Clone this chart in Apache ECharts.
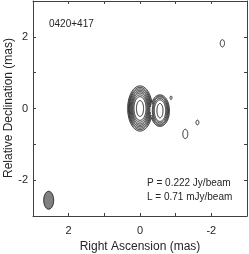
<!DOCTYPE html>
<html><head><meta charset="utf-8">
<script src="https://cdn.jsdelivr.net/npm/echarts@6/dist/echarts.min.js"></script>
<style>html,body{margin:0;padding:0;background:#fff}#c{width:249px;height:254px}</style>
</head><body><div id="c"></div>
<script>
// ---- data (mas) ----
const xTicks = [-3, 3, 1];      // min, max, step (RA reversed)
const yTicks = [-3, 3, 1];
const labelledTicks = [-2, 0, 2];
const mainCenter = [0.0, 0.0];
const mainA = [0.10, 0.17, 0.20, 0.225, 0.25, 0.275, 0.30, 0.32, 0.345];
const mainB = [0.22, 0.33, 0.38, 0.43, 0.47, 0.51, 0.55, 0.59, 0.63];
const jetCenter = [-0.56, -0.06];
const jetA = [0.085, 0.16, 0.19, 0.215, 0.24, 0.265];
const jetB = [0.20, 0.30, 0.34, 0.38, 0.41, 0.44];
const blobX = [-0.87, -1.61, -1.27, -2.31];
const blobY = [0.30, -0.39, -0.71, 1.82];
const blobA = [0.025, 0.04, 0.07, 0.06];
const blobB = [0.05, 0.065, 0.13, 0.10];
const beam = [2.56, -2.56, 0.14, 0.25];
const sourceName = '0420+417';
const peakText = 'P = 0.222 Jy/beam';
const lowText = 'L = 0.71 mJy/beam';
const yName = 'Relative Declination (mas)';
const xName = 'Right Ascension (mas)';

const rows = [];
mainA.forEach((a, i) => rows.push([mainCenter[0], mainCenter[1], a, mainB[i], 0]));
jetA.forEach((a, i) => rows.push([jetCenter[0], jetCenter[1], a, jetB[i], 1]));
blobX.forEach((x, i) => rows.push([x, blobY[i], blobA[i], blobB[i], 2]));

function inside(x, y, c, a, b) {
  const dx = (x - c[0]) / a, dy = (y - c[1]) / b;
  return dx * dx + dy * dy < 1;
}
const mainOuter = [mainA[mainA.length - 1], mainB[mainB.length - 1]];
const jetOuter = [jetA[jetA.length - 1], jetB[jetB.length - 1]];

function renderContour(params, api) {
  const cx = api.value(0), cy = api.value(1), a = api.value(2), b = api.value(3), kind = api.value(4);
  const N = 160;
  const pts = [];
  for (let k = 0; k < N; k++) {
    const t = 2 * Math.PI * k / N;
    const x = cx + a * Math.cos(t), y = cy + b * Math.sin(t);
    let vis = true;
    if (kind === 0 && inside(x, y, jetCenter, jetOuter[0], jetOuter[1])) vis = false;
    if (kind === 1 && inside(x, y, mainCenter, mainOuter[0], mainOuter[1])) vis = false;
    pts.push({p: api.coord([x, y]), vis});
  }
  const style = {stroke: '#000', fill: null, lineWidth: 0.9};
  const firstHidden = pts.findIndex(q => !q.vis);
  if (firstHidden < 0) {
    return {type: 'polygon', shape: {points: pts.map(q => q.p)}, style};
  }
  const children = [];
  let seg = [];
  for (let k = 0; k <= N; k++) {
    const q = pts[(firstHidden + k) % N];
    if (q.vis) seg.push(q.p);
    else { if (seg.length > 1) children.push({type: 'polyline', shape: {points: seg}, style}); seg = []; }
  }
  if (seg.length > 1) children.push({type: 'polyline', shape: {points: seg}, style});
  return {type: 'group', children};
}
function renderBeam(params, api) {
  const cx = api.value(0), cy = api.value(1), a = api.value(2), b = api.value(3);
  const pts = [];
  for (let k = 0; k < 80; k++) {
    const t = 2 * Math.PI * k / 80;
    pts.push(api.coord([cx + a * Math.cos(t), cy + b * Math.sin(t)]));
  }
  return {type: 'polygon', shape: {points: pts}, style: {fill: '#808080', stroke: '#000', lineWidth: 0.8}};
}

const axisCol = '#404040', textCol = '#262626', font = 'Liberation Sans, Arial, sans-serif';
function lab(v) { return labelledTicks.indexOf(v) >= 0 ? String(v) : ''; }
const chart = echarts.init(document.getElementById('c'));
chart.setOption({
  animation: false,
  grid: {left: 33, right: 2, top: 1, bottom: 38, containLabel: false, outerBoundsMode: 'none'},
  xAxis: [
    {type: 'value', min: xTicks[0], max: xTicks[1], interval: xTicks[2], inverse: true,
     name: xName, nameLocation: 'middle', nameGap: 24,
     nameTextStyle: {color: textCol, fontSize: 12, fontFamily: font},
     axisLine: {show: true, onZero: false, lineStyle: {color: axisCol, width: 1}},
     axisTick: {show: true, inside: true, length: 3, lineStyle: {color: axisCol}},
     axisLabel: {formatter: lab, color: textCol, fontSize: 11, fontFamily: font, margin: 9},
     splitLine: {show: false}},
    {type: 'value', position: 'top', min: xTicks[0], max: xTicks[1], interval: xTicks[2], inverse: true,
     axisLine: {show: true, onZero: false, lineStyle: {color: axisCol, width: 1}},
     axisTick: {show: true, inside: true, length: 3, lineStyle: {color: axisCol}},
     axisLabel: {show: false}, splitLine: {show: false}}
  ],
  yAxis: [
    {type: 'value', min: yTicks[0], max: yTicks[1], interval: yTicks[2],
     axisLine: {show: true, onZero: false, lineStyle: {color: axisCol, width: 1}},
     axisTick: {show: true, inside: true, length: 3, lineStyle: {color: axisCol}},
     axisLabel: {formatter: lab, color: textCol, fontSize: 11, fontFamily: font, margin: 5},
     splitLine: {show: false}},
    {type: 'value', position: 'right', min: yTicks[0], max: yTicks[1], interval: yTicks[2],
     axisLine: {show: true, onZero: false, lineStyle: {color: axisCol, width: 1}},
     axisTick: {show: true, inside: true, length: 3, lineStyle: {color: axisCol}},
     axisLabel: {show: false}, splitLine: {show: false}}
  ],
  graphic: [
    {type: 'text', x: 9, y: 108, rotation: Math.PI / 2,
     style: {text: yName, fill: textCol, font: '12px ' + font, align: 'center', verticalAlign: 'middle'}},
    {type: 'text', left: 49, top: 19, style: {text: sourceName, fill: textCol, font: '10px ' + font}},
    {type: 'text', left: 147, top: 178, style: {text: peakText, fill: textCol, font: '10px ' + font}},
    {type: 'text', left: 147, top: 192, style: {text: lowText, fill: textCol, font: '10px ' + font}}
  ],
  series: [
    {type: 'custom', renderItem: renderContour, data: rows, clip: true, silent: true},
    {type: 'custom', renderItem: renderBeam, data: [beam], clip: true, silent: true}
  ]
});
</script></body></html>
